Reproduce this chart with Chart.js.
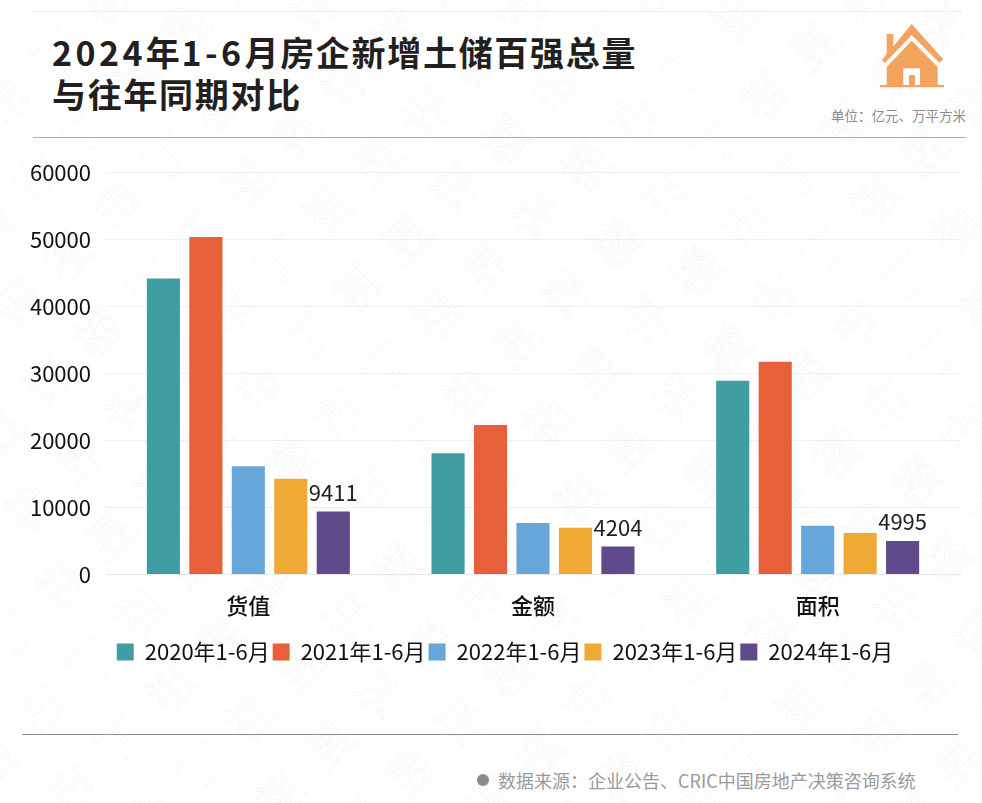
<!DOCTYPE html>
<html lang="zh">
<head>
<meta charset="utf-8">
<title>2024年1-6月房企新增土储百强总量与往年同期对比</title>
<script src="https://cdn.jsdelivr.net/npm/chart.js@4"></script>
<style>
    html, body { margin: 0; padding: 0; background: #fff; }
    body { width: 982px; height: 803px; position: relative; overflow: hidden; font-family: "Noto Sans CJK SC", sans-serif; }
    .abs { position: absolute; }
    #title { left: 52px; top: 31px; font-size: 34px; font-weight: 700; line-height: 42px; letter-spacing: 1.7px; color: #231f20; white-space: nowrap; }
    #title span { letter-spacing: 3.4px; }
    #unit { left: 831px; top: 106px; font-size: 13.5px; line-height: 18px; color: #8c8c8c; white-space: nowrap; }
    #source { left: 498px; top: 768px; font-size: 18px; line-height: 24px; color: #9a9a9a; white-space: nowrap; }
    #dot { left: 477px; top: 774px; width: 12px; height: 12px; border-radius: 50%; background: #8a8a8a; }
    .rule { height: 1px; }
    #chartBox { left: 28px; top: 144px; width: 954px; height: 529px; }
    #watermark { left: -400px; top: -400px; width: 1800px; height: 1800px; transform: rotate(-45deg); overflow: hidden; }
    #watermark div { font-size: 46px; line-height: 76px; letter-spacing: 24px; white-space: nowrap; color: transparent; -webkit-text-stroke: 0.7px #f5f5f5; }
</style>
</head>
<body>
<div id="watermark" class="abs" aria-hidden="true"></div>

<div class="abs rule" style="left:32px;top:11px;width:930px;background:#efefef"></div>
<div id="title" class="abs"><span>2024</span>年<span>1-6</span>月房企新增土储百强总量<br>与往年同期对比</div>
<svg class="abs" style="left:878px;top:22px" width="68" height="68" viewBox="878 22 68 68">
    <g fill="#f2a35e">
        <path d="M911.7 24 L943.3 59.3 L939.3 62.7 L911.7 35 L885 63 L881.7 60 L886.7 54 L886.7 34 L893.3 34 L893.3 46.5 Z"/>
        <path d="M911.7 40.7 L937.7 67 L937.7 85 L944 85 L944 87.3 L880 87.3 L880 85 L886.7 85 L886.7 67 Z"/>
    </g>
    <rect x="903.3" y="68.3" width="16.7" height="16.7" fill="#fff"/>
    <rect x="909" y="75" width="6" height="12" fill="#f2a35e"/>
</svg>
<div id="unit" class="abs">单位：亿元、万平方米</div>
<div class="abs rule" style="left:33px;top:137px;width:933px;background:#b0b0b0"></div>

<div id="chartBox" class="abs"><canvas id="landChart"></canvas></div>

<div class="abs rule" style="left:22px;top:734px;width:936px;background:#8c8c8c"></div>
<div id="dot" class="abs"></div>
<div id="source" class="abs">数据来源：企业公告、CRIC中国房地产决策咨询系统</div>

<script>
// Data arrays for chart
const categories = ['货值', '金额', '面积'];
const seriesNames = ['2020年1-6月', '2021年1-6月', '2022年1-6月', '2023年1-6月', '2024年1-6月'];
const values2020 = [44150, 18100, 28900];
const values2021 = [50350, 22300, 31750];
const values2022 = [16150, 7700, 7300];
const values2023 = [14300, 7000, 6200];
const values2024 = [9411, 4204, 4995];
const seriesColors = ['#3f9ea3', '#e85f3c', '#67a6d9', '#efaa35', '#614a8c'];
const yTicks = [0, 10000, 20000, 30000, 40000, 50000, 60000];

const allValues = [values2020, values2021, values2022, values2023, values2024];
const fontFamily = '"Noto Sans CJK SC", sans-serif';

// Background watermark rows
const wm = document.getElementById('watermark');
for (let i = 0; i < 24; i++) {
    const row = document.createElement('div');
    row.style.marginLeft = (i * 37 % 70) + 'px';
    row.textContent = '丁祖昱评楼市'.repeat(5);
    wm.appendChild(row);
}

// Labels above the 2024 bars
const lastBarLabels = {
    id: 'lastBarLabels',
    afterDatasetsDraw(chart) {
        const last = chart.data.datasets.length - 1;
        const ctx = chart.ctx;
        ctx.save();
        ctx.font = '22px ' + fontFamily;
        ctx.fillStyle = '#222';
        ctx.textAlign = 'center';
        ctx.textBaseline = 'bottom';
        chart.getDatasetMeta(last).data.forEach((bar, i) => {
            ctx.fillText(values2024[i], bar.x, bar.y - 8);
        });
        ctx.restore();
    }
};

// Legend sits a little right of the box centre
const legendShift = {
    id: 'legendShift',
    afterLayout(chart) {
        chart.legend.left += 11;
        chart.legend.right += 11;
    }
};

new Chart(document.getElementById('landChart').getContext('2d'), {
    type: 'bar',
    data: {
        labels: categories,
        datasets: seriesNames.map((name, i) => ({
            label: name,
            data: allValues[i],
            backgroundColor: seriesColors[i],
            categoryPercentage: 0.746,
            barPercentage: 0.78
        }))
    },
    options: {
        responsive: true,
        maintainAspectRatio: false,
        animation: false,
        layout: { padding: { top: 1, right: 22, bottom: 0, left: 0 } },
        plugins: {
            tooltip: { enabled: false },
            legend: {
                position: 'bottom',
                labels: {
                    color: '#111',
                    font: { size: 22, family: fontFamily },
                    boxWidth: 17,
                    boxHeight: 17,
                    padding: 3
                }
            }
        },
        scales: {
            x: {
                afterFit(scale) { scale.height += 10; },
                grid: { display: false },
                border: { color: '#e8e8e8' },
                ticks: { color: '#111', font: { size: 22, weight: '500', family: fontFamily }, padding: 9.5 }
            },
            y: {
                min: 0,
                max: 60000,
                afterFit(scale) { scale.width = 78; },
                afterBuildTicks(scale) { scale.ticks = yTicks.map(v => ({ value: v })); },
                grid: { color: '#efefef', drawTicks: false },
                border: { display: false },
                ticks: { color: '#111', font: { size: 22, family: fontFamily }, padding: 15, callback: v => String(v) }
            }
        }
    },
    plugins: [lastBarLabels, legendShift]
});
</script>
</body>
</html>
